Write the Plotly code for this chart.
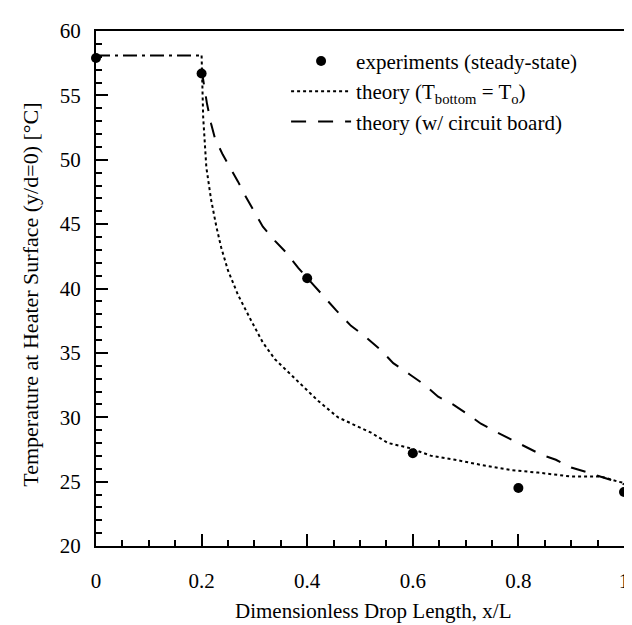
import plotly.graph_objects as go

# Experimental data (steady-state)
exp_x = [0.0, 0.2, 0.4, 0.6, 0.8, 1.0]
exp_y = [57.9, 56.7, 40.8, 27.2, 24.5, 24.2]

# Heater plateau (dash-dot)
plateau_x = [0.0, 0.2]
plateau_y = [58.1, 58.1]

# Theory, T_bottom = T_o (dotted)
th1_x = [0.2, 0.201, 0.203, 0.209, 0.218, 0.228, 0.237, 0.25, 0.269, 0.294, 0.316, 0.339,
         0.38, 0.42, 0.458, 0.521, 0.553, 0.595, 0.635, 0.68, 0.729, 0.786, 0.837, 0.9,
         0.928, 0.956, 0.989, 1.0]
th1_y = [58.1, 55.5, 53.3, 49.4, 46.9, 44.8, 43.2, 41.4, 39.5, 37.5, 35.8, 34.5,
         32.9, 31.3, 30.0, 28.8, 28.0, 27.6, 27.0, 26.7, 26.3, 25.9, 25.7, 25.4,
         25.4, 25.4, 25.0, 24.9]

# Theory with circuit board (dashed)
th2_x = [0.2, 0.205, 0.21, 0.218, 0.225, 0.24, 0.254, 0.269, 0.284, 0.30, 0.316, 0.339,
         0.36, 0.383, 0.40, 0.43, 0.455, 0.483, 0.509, 0.54, 0.563, 0.595, 0.623, 0.648,
         0.676, 0.705, 0.729, 0.761, 0.786, 0.814, 0.843, 0.871, 0.9, 0.932, 0.955, 0.989, 1.0]
th2_y = [57.0, 55.6, 54.4, 52.8, 51.7, 50.4, 49.4, 48.3, 47.1, 46.0, 44.8, 43.7,
         42.8, 41.6, 40.8, 39.4, 38.3, 37.1, 36.3, 35.2, 34.2, 33.3, 32.5, 31.6,
         31.0, 30.2, 29.5, 28.8, 28.3, 27.7, 27.1, 26.7, 26.1, 25.7, 25.4, 24.9, 24.8]

x_ticks = [0, 0.2, 0.4, 0.6, 0.8, 1.0]
x_ticktext = ["0", "0.2", "0.4", "0.6", "0.8", "1"]
y_ticks = [20, 25, 30, 35, 40, 45, 50, 55, 60]

x_title = "Dimensionless Drop Length, x/L"
y_title = "Temperature at Heater Surface (y/d=0) [°C]"

FONT = "Liberation Serif, Times New Roman, serif"
FS = 21

fig = go.Figure()
fig.add_trace(go.Scatter(x=plateau_x, y=plateau_y, mode="lines", showlegend=False,
                         line=dict(color="black", width=2, dash="14px,5px,3px,5px")))
fig.add_trace(go.Scatter(x=exp_x, y=exp_y, mode="markers", name="experiments (steady-state)",
                         marker=dict(color="black", size=10), cliponaxis=False))
fig.add_trace(go.Scatter(x=th1_x, y=th1_y, mode="lines",
                         name="theory (T<sub>bottom</sub> = T<sub>o</sub>)",
                         line=dict(color="black", width=2, dash="3px,3px")))
fig.add_trace(go.Scatter(x=th2_x, y=th2_y, mode="lines", name="theory (w/ circuit board)",
                         line=dict(color="black", width=2, dash="15px,12px")))

axis_common = dict(showline=True, linecolor="black", linewidth=2, mirror=True,
                   ticks="inside", ticklen=12, tickwidth=2, tickcolor="black",
                   showgrid=False, zeroline=False,
                   tickfont=dict(family=FONT, size=FS, color="black"))

fig.update_xaxes(range=[0, 1], tickvals=x_ticks, ticktext=x_ticktext,
                 minor=dict(dtick=0.05, ticks="inside", ticklen=6, tickwidth=2, tickcolor="black"),
                 ticklabelstandoff=15, **axis_common)
fig.update_yaxes(range=[20, 60], tickvals=y_ticks,
                 minor=dict(dtick=1, ticks="inside", ticklen=6, tickwidth=2, tickcolor="black"),
                 ticklabelstandoff=9, **axis_common)

fig.add_annotation(text=x_title, xref="paper", yref="paper", x=0.525, y=-0.127,
                   xanchor="center", yanchor="middle", showarrow=False, borderpad=0,
                   font=dict(family=FONT, size=FS, color="black"))
fig.add_annotation(text=y_title, xref="paper", yref="paper", x=-0.123, y=0.488,
                   xanchor="center", yanchor="middle", showarrow=False, textangle=-90,
                   borderpad=0, font=dict(family=FONT, size=22, color="black"))

fig.update_layout(
    width=632, height=625,
    margin=dict(l=88, r=16, t=11, b=87),
    plot_bgcolor="white", paper_bgcolor="white",
    font=dict(family=FONT, size=FS, color="black"),
    legend=dict(x=0.36, y=0.981, xanchor="left", yanchor="top",
                bgcolor="rgba(0,0,0,0)", font=dict(family=FONT, size=FS, color="black"),
                tracegroupgap=0, itemwidth=60),
)

fig.write_html("out.html")
